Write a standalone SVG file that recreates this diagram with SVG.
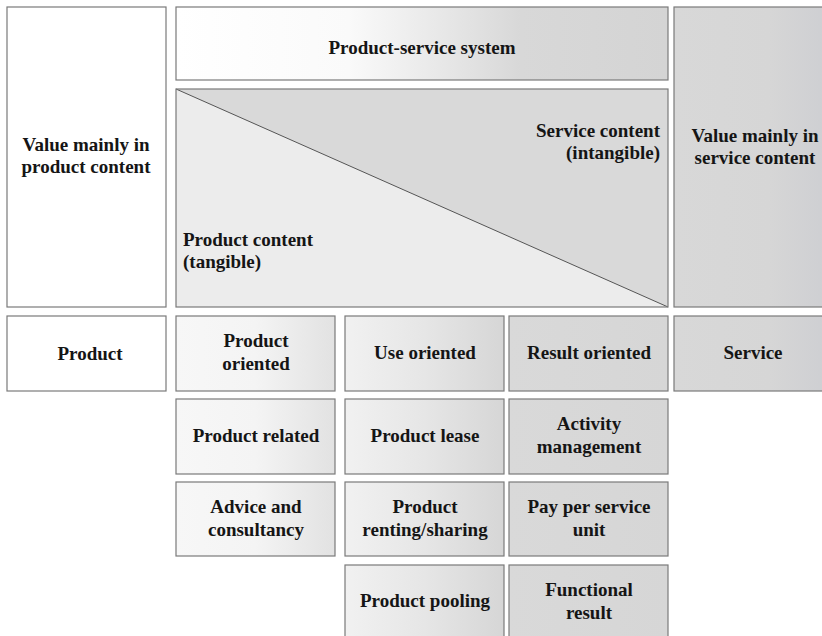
<svg xmlns="http://www.w3.org/2000/svg" width="822" height="636" viewBox="0 0 822 636">
<defs>
<linearGradient id="gPss" x1="0" y1="0" x2="1" y2="0">
<stop offset="0" stop-color="#ffffff"/>
<stop offset="0.35" stop-color="#fafafa"/>
<stop offset="0.7" stop-color="#d8d8d8"/>
<stop offset="1" stop-color="#d4d4d4"/>
</linearGradient>
<linearGradient id="gProd" x1="0" y1="0" x2="1" y2="0">
<stop offset="0" stop-color="#f7f7f7"/>
<stop offset="0.5" stop-color="#f4f4f4"/>
<stop offset="1" stop-color="#e2e2e2"/>
</linearGradient>
<linearGradient id="gUse" x1="0" y1="0" x2="1" y2="0">
<stop offset="0" stop-color="#f1f1f1"/>
<stop offset="0.5" stop-color="#e6e6e6"/>
<stop offset="1" stop-color="#d6d6d6"/>
</linearGradient>
<linearGradient id="gRes" x1="0" y1="0" x2="1" y2="0">
<stop offset="0" stop-color="#d9d9d9"/>
<stop offset="1" stop-color="#d6d6d6"/>
</linearGradient>
<linearGradient id="gSrv" x1="0" y1="0" x2="1" y2="0">
<stop offset="0" stop-color="#d8d8d8"/>
<stop offset="0.6" stop-color="#d6d6d6"/>
<stop offset="1" stop-color="#cdced2"/>
</linearGradient>
</defs>
<style>
.b{stroke:#7a7a7a;stroke-width:1.2}
.w{fill:#ffffff}
.t{font-family:"Liberation Serif","Times New Roman",serif;font-weight:bold;font-size:19px;fill:#151515}
.c{text-anchor:middle}
.r{text-anchor:end}
</style>
<rect width="822" height="636" fill="#ffffff"/>

<g id="value-product">
<rect class="b w" x="7" y="7" width="159" height="300"/>
<text class="t c" x="86" y="151">Value mainly in</text>
<text class="t c" x="86" y="173">product content</text>
</g>

<g id="pss">
<rect class="b" fill="url(#gPss)" x="176" y="7" width="492" height="73"/>
<text class="t c" x="422" y="54">Product-service system</text>
</g>

<g id="content">
<rect x="176" y="89" width="492" height="218" fill="#ececec"/>
<polygon points="176,89 668,89 668,307" fill="#d9d9d9"/>
<line x1="176" y1="89" x2="668" y2="307" stroke="#555" stroke-width="1"/>
<rect class="b" fill="none" x="176" y="89" width="492" height="218"/>
<text class="t r" x="660" y="137">Service content</text>
<text class="t r" x="660" y="159">(intangible)</text>
<text class="t" x="183" y="246">Product content</text>
<text class="t" x="183" y="268">(tangible)</text>
</g>

<g id="value-service">
<rect class="b" fill="url(#gSrv)" x="674" y="7" width="160" height="300"/>
<text class="t c" x="755" y="142">Value mainly in</text>
<text class="t c" x="755" y="164">service content</text>
</g>

<g id="product">
<rect class="b w" x="7" y="316" width="159" height="75"/>
<text class="t c" x="90" y="360">Product</text>
</g>

<g id="product-oriented">
<rect class="b" fill="url(#gProd)" x="176" y="316" width="159" height="75"/>
<text class="t c" x="256" y="347">Product</text>
<text class="t c" x="256" y="370">oriented</text>
</g>

<g id="use-oriented">
<rect class="b" fill="url(#gUse)" x="345" y="316" width="159" height="75"/>
<text class="t c" x="425" y="359">Use oriented</text>
</g>

<g id="result-oriented">
<rect class="b" fill="url(#gRes)" x="509" y="316" width="159" height="75"/>
<text class="t c" x="589" y="359">Result oriented</text>
</g>

<g id="service">
<rect class="b" fill="url(#gSrv)" x="674" y="316" width="160" height="75"/>
<text class="t c" x="753" y="359">Service</text>
</g>

<g id="product-related">
<rect class="b" fill="url(#gProd)" x="176" y="399" width="159" height="75"/>
<text class="t c" x="256" y="442">Product related</text>
</g>

<g id="product-lease">
<rect class="b" fill="url(#gUse)" x="345" y="399" width="159" height="75"/>
<text class="t c" x="425" y="442">Product lease</text>
</g>

<g id="activity-management">
<rect class="b" fill="url(#gRes)" x="509" y="399" width="159" height="75"/>
<text class="t c" x="589" y="430">Activity</text>
<text class="t c" x="589" y="453">management</text>
</g>

<g id="advice">
<rect class="b" fill="url(#gProd)" x="176" y="482" width="159" height="74"/>
<text class="t c" x="256" y="513">Advice and</text>
<text class="t c" x="256" y="536">consultancy</text>
</g>

<g id="renting">
<rect class="b" fill="url(#gUse)" x="345" y="482" width="159" height="74"/>
<text class="t c" x="425" y="513">Product</text>
<text class="t c" x="425" y="536">renting/sharing</text>
</g>

<g id="pay-per-unit">
<rect class="b" fill="url(#gRes)" x="509" y="482" width="159" height="74"/>
<text class="t c" x="589" y="513">Pay per service</text>
<text class="t c" x="589" y="536">unit</text>
</g>

<g id="pooling">
<rect class="b" fill="url(#gUse)" x="345" y="565" width="159" height="80"/>
<text class="t c" x="425" y="607">Product pooling</text>
</g>

<g id="functional-result">
<rect class="b" fill="url(#gRes)" x="509" y="565" width="159" height="80"/>
<text class="t c" x="589" y="596">Functional</text>
<text class="t c" x="589" y="619">result</text>
</g>
</svg>
